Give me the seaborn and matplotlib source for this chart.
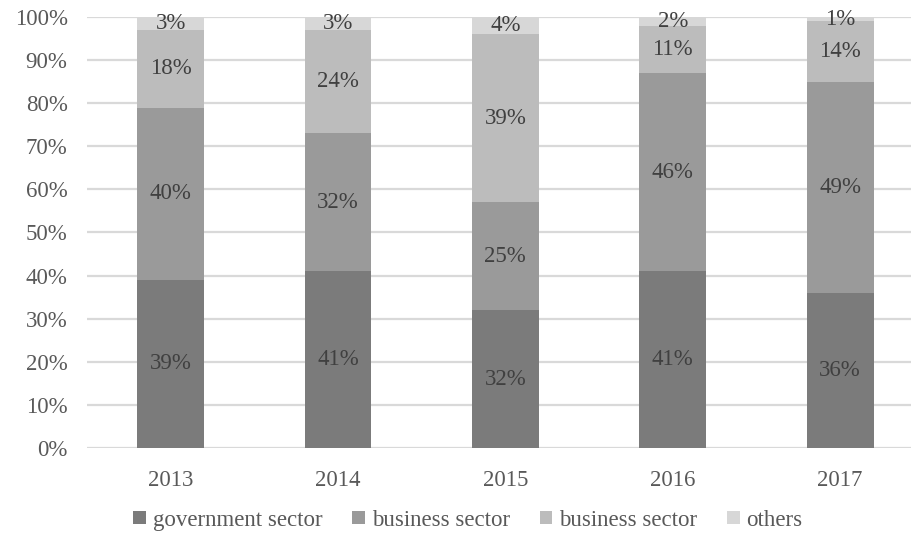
import numpy as np
import pandas as pd
import matplotlib
matplotlib.use("Agg")
import matplotlib.pyplot as plt
from matplotlib.patches import Patch
import seaborn as sns

years = ["2013", "2014", "2015", "2016", "2017"]
series_names = ["government sector", "business sector", "business sector", "others"]
government = [39, 41, 32, 41, 36]
business_a = [40, 32, 25, 46, 49]
business_b = [18, 24, 39, 11, 14]
others = [3, 3, 4, 2, 1]
colors = ["#7b7b7b", "#9a9a9a", "#bcbcbc", "#d7d7d7"]
y_ticks = [0, 10, 20, 30, 40, 50, 60, 70, 80, 90, 100]

sns.set_theme(style="white")
plt.rcParams["font.family"] = ["Liberation Serif", "DejaVu Serif"]

layers = [government, business_a, business_b, others]
values = np.array(layers, dtype=float)
tops = np.cumsum(values, axis=0)
bottoms = tops - values

fig = plt.figure(figsize=(9.12, 5.4), dpi=100)
ax = fig.add_axes([87 / 912, 92 / 540, 1 - 87 / 912, (448 - 17) / 540])

ax.set_axisbelow(True)
for t in y_ticks:
    ax.axhline(t, color="#d9d9d9", lw=1.6, zorder=0)

# Stacked bars: draw the cumulative totals from the top layer down, each covering the next
for i in range(len(layers) - 1, -1, -1):
    df = pd.DataFrame({"year": years, "total": tops[i]})
    sns.barplot(data=df, x="year", y="total", color=colors[i], width=0.4,
                saturation=1, ax=ax, zorder=2, order=years, linewidth=0,
                edgecolor="none")

# Segment labels at the middle of each segment
for i in range(len(layers)):
    for j in range(len(years)):
        ax.text(j, (bottoms[i, j] + tops[i, j]) / 2, f"{int(values[i, j])}%",
                ha="center", va="center", fontsize=16.5, color="#404040", zorder=3)

ax.set_xlim(-0.5, 4.43)
ax.set_ylim(0, 100)
ax.set_yticks(y_ticks)
ax.set_yticklabels([f"{t}%" for t in y_ticks])
ax.set_xlabel("")
ax.set_ylabel("")
ax.tick_params(axis="both", length=0, labelsize=16.5, labelcolor="#595959")
ax.tick_params(axis="y", pad=14)
ax.tick_params(axis="x", pad=16)
for s in ax.spines.values():
    s.set_visible(False)

handles = [Patch(facecolor=c, edgecolor="none") for c in colors]
fig.legend(handles, series_names, loc="center", bbox_to_anchor=(0.513, 0.037),
           ncol=4, frameon=False, fontsize=16.5, handlelength=0.55, handleheight=0.55,
           handletextpad=0.3, columnspacing=1.3, labelcolor="#595959")

fig.savefig("out.png", dpi=100)
